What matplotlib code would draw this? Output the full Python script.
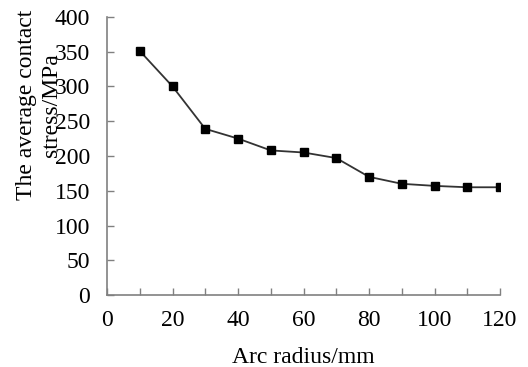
import numpy as np
import matplotlib.pyplot as plt
from matplotlib.ticker import MultipleLocator

# data
arc_radius = [10, 20, 30, 40, 50, 60, 70, 80, 90, 100, 110, 120]
contact_stress = [351, 300, 239, 225, 208, 205, 197, 170, 160, 157, 155, 155]

plt.rcParams['font.family'] = ['Liberation Serif', 'DejaVu Serif']

fig = plt.figure(figsize=(5.28, 3.67), dpi=100)
ax = fig.add_axes([0.2027, 0.196, 0.7443, 0.758])

ax.plot(arc_radius, contact_stress, color='#333333', linewidth=1.3,
        marker='s', markersize=6, markerfacecolor='black', markeredgecolor='black')

ax.set_xlim(0, 120)
ax.set_ylim(0, 400)
ax.xaxis.set_major_locator(MultipleLocator(20))
ax.xaxis.set_minor_locator(MultipleLocator(10))
ax.yaxis.set_major_locator(MultipleLocator(50))

for side in ['top', 'right']:
    ax.spines[side].set_visible(False)
for side in ['left', 'bottom']:
    ax.spines[side].set_color('#808080')
    ax.spines[side].set_linewidth(1.2)

ax.tick_params(which='both', direction='in', length=5, width=1, color='#808080',
               labelsize=17, pad=12)
ax.tick_params(axis='x', which='both', pad=11)

ax.set_xlabel('Arc radius/mm', fontsize=17, labelpad=11)
fig.text(0.074, 0.714, 'The average contact\nstress/MPa', rotation=90,
         ha='center', va='center', multialignment='center', fontsize=17,
         linespacing=1.3)

fig.savefig('out.png', dpi=100)
